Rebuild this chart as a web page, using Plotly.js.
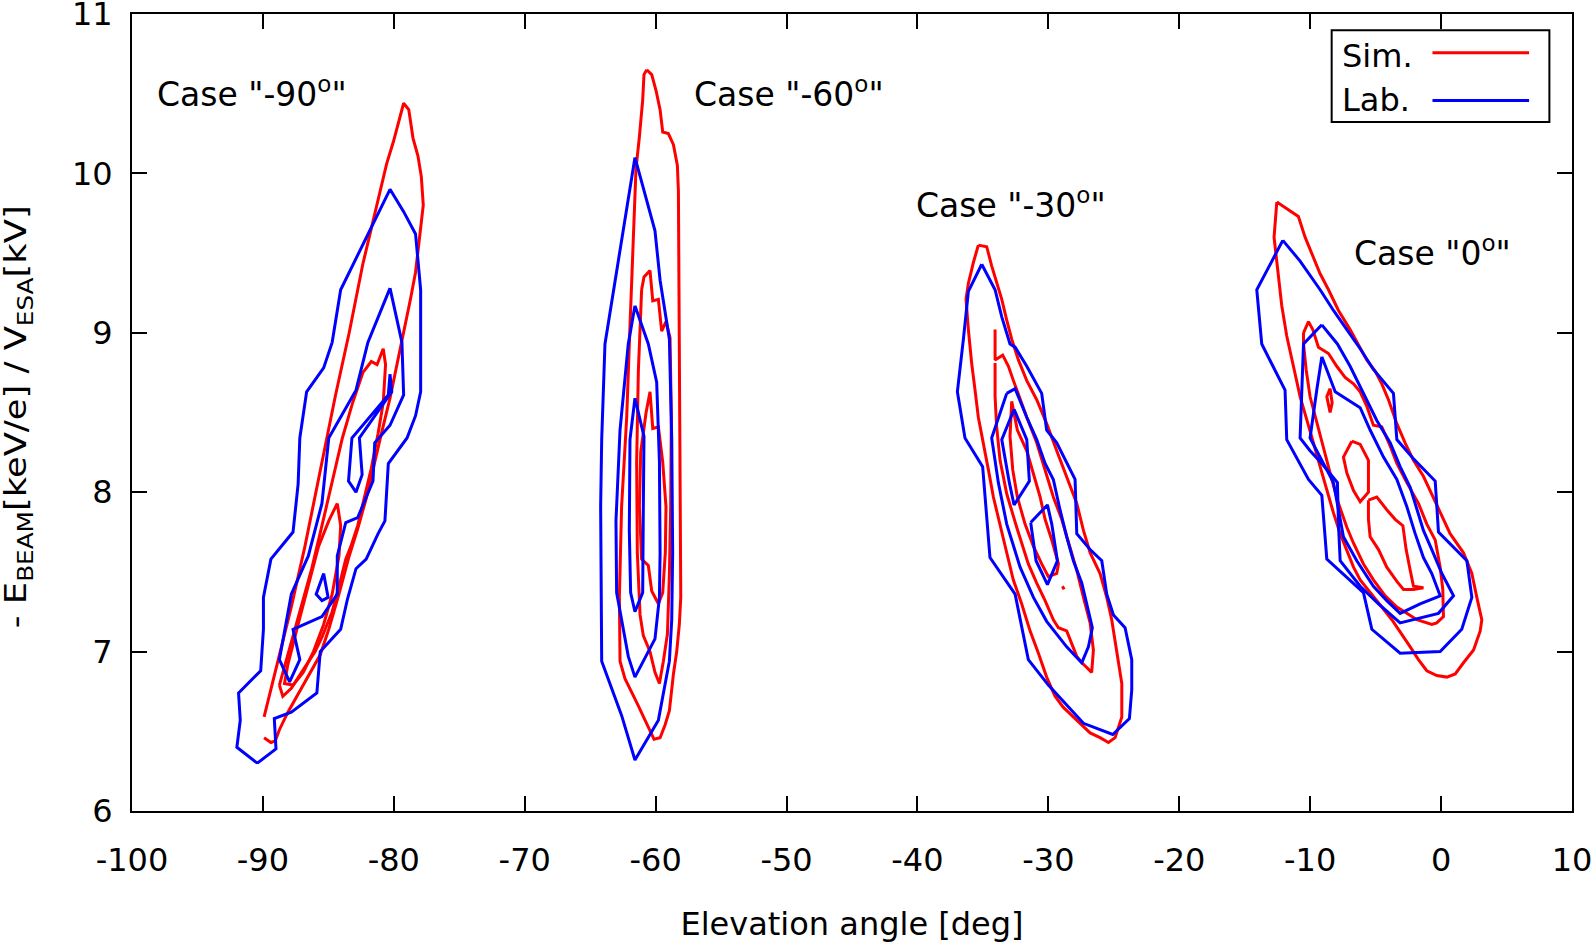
<!DOCTYPE html>
<html>
<head>
<meta charset="utf-8">
<script src="https://cdn.plot.ly/plotly-3.0.1.min.js"></script>
<style>html,body{margin:0;padding:0;background:#fff;}#chart{width:1595px;height:947px;}</style>
</head>
<body>
<div id="chart"></div>
<script>
// Contour lines (deg, kV); null separates individual contour levels.
const simM90X = [-89.91,-89.26,-88.48,-87.83,-86.79,-85.49,-84.45,-83.41,-82.37,-81.33,-80.55,-80.03,-79.25,-78.86,-78.53,-78.16,-77.90,-77.75,-78.01,-78.34,-78.73,-79.51,-80.29,-80.94,-81.46,-82.11,-82.76,-83.41,-84.19,-84.97,-85.62,-86.53,-87.31,-88.09,-88.74,-89.05,-89.39,-89.91, null,
  -88.74,-88.09,-87.31,-86.27,-85.49,-84.71,-83.93,-83.15,-82.37,-81.72,-81.28,-80.81,-80.63,-80.81,-81.20,-81.72,-82.24,-82.76,-83.28,-83.67,-84.19,-84.71,-85.49,-86.01,-87.05,-87.83,-88.48,-88.74, null,
  -84.32,-84.06,-84.19,-84.71,-85.36,-86.14,-86.92,-87.70,-88.35,-88.09,-87.31,-86.53,-85.75,-84.97,-84.32];
const simM90Y = [6.59,6.81,7.06,7.28,7.66,8.20,8.61,9.00,9.43,9.79,10.06,10.20,10.44,10.40,10.22,10.11,9.98,9.80,9.60,9.38,9.21,8.89,8.59,8.37,8.18,7.96,7.77,7.60,7.36,7.14,6.98,6.85,6.73,6.62,6.51,6.44,6.43,6.46, null,
  6.79,6.98,7.22,7.52,7.79,8.07,8.34,8.56,8.75,8.82,8.80,8.90,8.80,8.56,8.37,8.15,7.96,7.79,7.66,7.58,7.41,7.25,7.09,7.00,6.87,6.77,6.72,6.79, null,
  7.93,7.79,7.60,7.36,7.17,7.00,6.87,6.79,6.80,6.92,7.17,7.41,7.66,7.82,7.93];

const labM90X = [-90.43,-89.00,-89.13,-87.83,-85.88,-85.62,-84.06,-83.54,-82.89,-82.11,-81.20,-80.68,-80.42,-78.99,-78.34,-77.95,-77.95,-78.34,-79.25,-80.29,-84.06,-84.71,-85.36,-86.66,-87.18,-87.31,-87.70,-88.61,-89.39,-89.96,-89.96,-90.17,-91.86,-91.73,-91.99,-90.43, null,
  -80.29,-79.38,-79.25,-80.29,-81.46,-81.59,-82.76,-83.67,-84.32,-84.32,-85.49,-87.70,-87.18,-87.96,-88.74,-87.83,-86.53,-85.49,-84.97,-82.89,-81.98,-80.29, null,
  -80.29,-80.16,-82.63,-82.42,-82.89,-83.46,-83.20,-80.42,-80.29, null,
  -85.36,-85.02,-85.49,-85.93,-85.36];
const labM90Y = [6.30,6.39,6.58,6.62,6.74,7.00,7.14,7.33,7.52,7.58,7.74,7.82,8.18,8.34,8.48,8.63,9.27,9.62,9.76,9.90,9.27,8.94,8.78,8.63,8.34,8.05,7.75,7.66,7.58,7.34,7.14,6.88,6.74,6.57,6.40,6.30, null,
  9.28,8.94,8.61,8.42,8.31,8.07,7.84,7.81,7.60,7.36,7.22,7.14,6.95,6.81,6.95,7.36,7.60,7.93,8.34,8.64,8.94,9.28, null,
  8.74,8.63,8.34,8.11,8.00,8.07,8.34,8.61,8.74, null,
  7.49,7.34,7.32,7.36,7.49];

const simM60X = [-60.68,-60.30,-59.97,-59.66,-59.46,-59.03,-58.64,-58.34,-58.26,-58.21,-58.19,-58.13,-58.08,-58.19,-58.39,-58.64,-58.95,-59.28,-59.66,-60.12,-60.43,-60.81,-61.32,-61.83,-62.34,-62.72,-62.77,-62.60,-62.21,-61.96,-61.70,-61.50,-61.24,-60.99,-60.89,-60.68, null,
  -61.07,-60.89,-60.43,-60.22,-59.79,-59.54,-59.21,-58.90,-58.80,-58.85,-58.95,-59.10,-59.41,-59.71,-60.05,-60.43,-60.94,-61.19,-61.40,-61.45,-61.32,-61.19,-61.07, null,
  -60.73,-60.43,-60.22,-59.79,-59.46,-59.21,-59.26,-59.46,-59.79,-60.30,-60.56,-61.07,-61.24,-61.14,-60.73];
const simM60Y = [10.65,10.62,10.52,10.40,10.26,10.25,10.18,10.05,9.89,9.32,8.47,7.91,7.34,7.17,7.00,6.86,6.63,6.54,6.46,6.45,6.50,6.57,6.66,6.74,6.83,6.94,7.34,7.91,8.47,9.04,9.61,10.03,10.23,10.46,10.62,10.65, null,
  9.27,9.35,9.39,9.20,9.21,9.01,9.07,8.97,8.47,7.91,7.48,7.11,6.94,6.80,6.87,7.00,7.10,7.23,7.62,8.19,8.76,9.04,9.27, null,
  8.50,8.63,8.40,8.41,8.19,7.91,7.62,7.37,7.30,7.38,7.54,7.58,7.91,8.25,8.50];

const labM60X = [-61.58,-60.05,-59.66,-58.95,-58.77,-58.70,-58.77,-58.95,-59.79,-61.58,-62.60,-64.12,-64.20,-64.12,-63.87,-62.72,-61.58, null,
  -61.58,-60.56,-59.92,-59.71,-59.66,-59.71,-60.05,-61.58,-62.09,-62.98,-63.03,-62.72,-62.09,-61.58, null,
  -61.58,-60.89,-60.94,-60.99,-61.58,-61.91,-62.01,-61.96,-61.58];
const labM60Y = [10.10,9.64,9.33,8.96,8.33,7.62,7.20,6.94,6.57,6.32,6.60,6.94,7.91,8.33,8.93,9.52,10.10, null,
  9.17,8.93,8.69,8.19,7.62,7.34,7.08,6.84,6.97,7.37,7.82,8.39,8.93,9.17, null,
  8.59,8.35,7.91,7.37,7.25,7.37,7.76,8.33,8.59];

const simM30X = [-35.35,-34.71,-34.33,-33.95,-33.56,-33.18,-32.80,-32.29,-31.65,-30.89,-30.13,-29.36,-28.60,-27.83,-27.32,-26.81,-26.05,-25.54,-25.16,-24.78,-24.39,-24.39,-24.90,-25.41,-26.05,-26.81,-27.58,-28.85,-29.49,-30.13,-30.76,-31.40,-32.04,-32.68,-33.18,-33.69,-34.20,-34.58,-34.96,-35.35,-35.60,-35.86,-36.11,-36.29,-36.11,-35.73,-35.35, null,
  -34.07,-34.07,-33.49,-33.05,-32.67,-32.16,-31.65,-30.89,-30.25,-29.62,-28.98,-28.34,-27.83,-27.32,-26.81,-26.56,-26.69,-27.32,-27.83,-28.60,-29.23,-29.62,-30.25,-30.89,-31.53,-32.42,-33.18,-33.69,-33.95,-34.07,-34.07, null,
  -32.80,-32.37,-31.65,-31.14,-30.63,-30.25,-29.74,-29.23,-29.36,-30.00,-30.51,-31.14,-31.78,-32.37,-32.72,-32.93,-32.80, null,
  -28.92,-28.80];
const simM30Y = [9.55,9.54,9.42,9.31,9.21,9.08,8.96,8.83,8.70,8.58,8.43,8.26,8.10,7.93,7.76,7.62,7.49,7.34,7.20,6.99,6.80,6.59,6.46,6.43,6.46,6.49,6.55,6.65,6.72,6.84,6.99,7.13,7.30,7.45,7.62,7.80,7.97,8.14,8.31,8.47,8.64,8.81,9.02,9.21,9.31,9.44,9.55, null,
  9.02,8.83,8.86,8.79,8.70,8.58,8.47,8.31,8.14,7.97,7.83,7.66,7.51,7.34,7.18,7.01,6.87,6.92,6.97,7.13,7.15,7.20,7.32,7.43,7.55,7.78,7.99,8.20,8.41,8.60,8.81, null,
  8.57,8.39,8.26,8.12,7.97,7.83,7.70,7.55,7.49,7.47,7.55,7.66,7.80,7.97,8.14,8.35,8.57, null,
  7.41,7.39];

const labM30X = [-35.09,-34.07,-33.56,-32.93,-32.54,-31.65,-30.51,-30.13,-29.36,-27.96,-27.83,-26.81,-25.92,-25.54,-25.03,-24.14,-23.63,-23.63,-23.81,-25.08,-27.32,-30.00,-31.53,-32.54,-34.46,-35.02,-36.37,-36.95,-36.49,-36.11,-35.09, null,
  -33.18,-32.54,-31.65,-30.89,-30.25,-29.62,-29.11,-28.60,-28.09,-27.45,-27.07,-26.64,-26.94,-27.45,-28.60,-30.13,-31.14,-32.16,-33.18,-33.82,-34.33,-33.82,-33.18, null,
  -32.62,-31.65,-31.45,-32.62,-32.98,-33.56,-32.62, null,
  -31.35,-30.07,-29.74,-29.31,-30.07,-30.94,-31.35];
const labM30Y = [9.43,9.27,9.10,8.93,8.91,8.79,8.62,8.39,8.31,8.08,7.74,7.64,7.57,7.36,7.23,7.15,6.95,6.76,6.58,6.48,6.55,6.79,6.95,7.36,7.59,8.16,8.34,8.63,8.96,9.26,9.43, null,
  8.62,8.65,8.47,8.33,8.18,8.08,7.89,7.72,7.57,7.43,7.30,7.15,7.03,6.93,7.03,7.19,7.34,7.53,7.80,8.06,8.34,8.47,8.62, null,
  8.52,8.33,8.07,7.92,8.06,8.33,8.52, null,
  7.81,7.92,7.80,7.57,7.42,7.57,7.81];

const sim0X = [-12.55,-11.79,-10.90,-10.39,-9.88,-9.24,-8.60,-7.84,-6.95,-6.18,-5.68,-5.04,-4.53,-4.02,-3.38,-2.75,-2.11,-1.35,-0.71,-0.07,0.69,1.71,2.35,2.73,3.11,2.99,2.48,1.71,1.08,0.44,-0.33,-1.09,-1.73,-2.36,-3.00,-3.76,-4.53,-5.42,-6.18,-6.69,-7.20,-7.71,-8.22,-8.73,-9.24,-9.75,-10.26,-10.77,-11.28,-11.79,-12.17,-12.43,-12.76,-12.55, null,
  -10.51,-10.13,-9.80,-9.37,-8.60,-7.97,-7.33,-6.69,-6.18,-5.68,-5.17,-4.53,-3.89,-3.38,-2.62,-1.73,-1.09,-0.45,-0.07,0.13,0.18,-0.33,-0.71,-1.85,-2.62,-3.38,-4.27,-5.17,-5.93,-6.69,-7.20,-7.84,-8.35,-8.86,-9.50,-10.01,-10.31,-10.51,-10.51, null,
  -5.55,-4.91,-4.15,-3.51,-2.92,-2.67,-2.36,-2.11,-1.35,-2.11,-2.87,-3.38,-4.15,-4.78,-5.42,-5.55,-5.55, null,
  -6.82,-6.18,-5.55,-5.55,-6.18,-6.69,-7.20,-7.46,-6.82, null,
  -8.48,-8.32,-8.48,-8.73,-8.48];
const sim0Y = [9.82,9.78,9.73,9.60,9.50,9.37,9.27,9.14,9.02,8.91,8.83,8.76,8.68,8.58,8.43,8.31,8.20,8.10,7.99,7.87,7.74,7.62,7.49,7.34,7.20,7.13,7.01,6.93,6.86,6.84,6.85,6.88,6.95,7.03,7.11,7.20,7.28,7.37,7.45,7.53,7.64,7.74,7.87,8.01,8.16,8.31,8.45,8.60,8.79,8.98,9.17,9.37,9.60,9.82, null,
  9.00,9.07,9.02,8.91,8.87,8.79,8.72,8.68,8.63,8.54,8.42,8.41,8.29,8.18,8.06,7.93,7.80,7.70,7.53,7.39,7.22,7.18,7.17,7.20,7.24,7.28,7.35,7.45,7.55,7.68,7.78,7.93,8.08,8.24,8.43,8.60,8.77,8.93,9.00, null,
  7.95,7.97,7.89,7.83,7.79,7.64,7.51,7.41,7.40,7.39,7.39,7.44,7.53,7.64,7.72,7.83,7.95, null,
  8.32,8.30,8.20,8.00,7.94,8.01,8.12,8.22,8.32, null,
  8.65,8.56,8.50,8.60,8.65];

const lab0X = [-12.09,-10.77,-9.24,-8.22,-7.20,-6.18,-5.17,-4.27,-3.64,-3.38,-2.11,-0.45,-0.20,1.97,2.35,1.58,-0.07,-3.13,-5.29,-5.93,-8.73,-9.11,-10.13,-11.79,-11.92,-13.70,-14.08,-12.09, null,
  -9.11,-7.92,-6.95,-5.93,-4.91,-3.89,-3.13,-2.36,-1.85,-1.35,-0.71,0.06,0.95,-0.20,-3.13,-4.78,-6.18,-7.71,-7.84,-7.92,-9.11,-10.01,-10.77,-10.64,-10.51,-9.11, null,
  -9.11,-8.09,-6.18,-5.42,-4.40,-3.38,-2.62,-1.98,-1.35,-0.71,-0.07,-1.60,-3.13,-4.15,-5.17,-6.44,-7.46,-7.84,-8.22,-9.11,-10.01,-9.50,-9.11];
const lab0Y = [9.58,9.45,9.27,9.14,9.02,8.90,8.77,8.68,8.62,8.33,8.21,8.07,7.75,7.57,7.34,7.14,7.00,6.99,7.14,7.37,7.58,7.98,8.08,8.33,8.64,8.93,9.27,9.58, null,
  9.05,8.93,8.79,8.62,8.45,8.31,8.16,8.03,7.89,7.76,7.64,7.49,7.35,7.24,7.18,7.30,7.41,7.57,7.80,8.06,8.18,8.26,8.34,8.64,8.93,9.05, null,
  8.85,8.63,8.53,8.39,8.22,8.08,7.91,7.74,7.59,7.49,7.35,7.30,7.24,7.32,7.41,7.57,7.72,7.89,8.06,8.20,8.34,8.64,8.85];

const caseLabels = ['Case "-90<sup>o</sup>"', 'Case "-60<sup>o</sup>"', 'Case "-30<sup>o</sup>"', 'Case "0<sup>o</sup>"'];
const caseLabelX = [-98.25, -57.23, -40.25, -6.83];
const caseLabelY = [10.51, 10.51, 9.81, 9.51];
const seriesNames = ['Sim.', 'Lab.'];
const xTicks = [-100, -90, -80, -70, -60, -50, -40, -30, -20, -10, 0, 10];
const yTicks = [6, 7, 8, 9, 10, 11];

const RED = 'rgb(255,0,0)';
const BLUE = 'rgb(0,0,255)';
const FONT = 'DejaVu Sans, Verdana, sans-serif';

const simSets = [[simM90X, simM90Y], [simM60X, simM60Y], [simM30X, simM30Y], [sim0X, sim0Y]];
const labSets = [[labM90X, labM90Y], [labM60X, labM60Y], [labM30X, labM30Y], [lab0X, lab0Y]];

const traces = [];
simSets.forEach(function (s) {
  traces.push({x: s[0], y: s[1], type: 'scatter', mode: 'lines', name: seriesNames[0],
    line: {color: RED, width: 3}, connectgaps: false, showlegend: false, hoverinfo: 'x+y'});
});
labSets.forEach(function (s) {
  traces.push({x: s[0], y: s[1], type: 'scatter', mode: 'lines', name: seriesNames[1],
    line: {color: BLUE, width: 3}, connectgaps: false, showlegend: false, hoverinfo: 'x+y'});
});

const annotations = caseLabels.map(function (t, i) {
  return {x: caseLabelX[i], y: caseLabelY[i], xref: 'x', yref: 'y', text: t, showarrow: false,
    xanchor: 'left', yanchor: 'middle', font: {family: FONT, size: 33, color: '#000'}};
});
// legend (text on the left, sample line on the right, as in the original)
annotations.push({xref: 'paper', yref: 'paper', x: 0.8390, y: 0.947, text: seriesNames[0], showarrow: false,
  xanchor: 'left', yanchor: 'middle', font: {family: FONT, size: 32, color: '#000'}});
annotations.push({xref: 'paper', yref: 'paper', x: 0.8390, y: 0.892, text: seriesNames[1], showarrow: false,
  xanchor: 'left', yanchor: 'middle', font: {family: FONT, size: 32, color: '#000'}});

const shapes = [
  {type: 'rect', xref: 'paper', yref: 'paper', x0: 0.8331, x1: 0.9843, y0: 0.8646, y1: 0.9796,
    line: {color: '#000', width: 2}, fillcolor: 'rgba(255,255,255,1)'},
  {type: 'line', xref: 'paper', yref: 'paper', x0: 0.9031, x1: 0.9702, y0: 0.9515, y1: 0.9515,
    line: {color: RED, width: 3}},
  {type: 'line', xref: 'paper', yref: 'paper', x0: 0.9031, x1: 0.9702, y0: 0.8914, y1: 0.8914,
    line: {color: BLUE, width: 3}}
];

const axisCommon = {
  showline: true, linecolor: '#000', linewidth: 2, mirror: 'ticks',
  ticks: 'inside', ticklen: 15, tickwidth: 2, tickcolor: '#000',
  showgrid: false, zeroline: false, automargin: false,
  ticklabeloverflow: 'allow',
  tickfont: {family: FONT, size: 32, color: '#000'}
};

const layout = {
  width: 1595, height: 947,
  margin: {l: 132, r: 23, t: 14, b: 136},
  paper_bgcolor: '#fff', plot_bgcolor: '#fff',
  showlegend: false,
  xaxis: Object.assign({}, axisCommon, {
    range: [-100, 10], tickmode: 'array', tickvals: xTicks, ticktext: xTicks.map(String),
    ticklabelstandoff: 20,
    title: {text: 'Elevation angle [deg]', font: {family: FONT, size: 32, color: '#000'}, standoff: 34}
  }),
  yaxis: Object.assign({}, axisCommon, {
    range: [6, 11], tickmode: 'array', tickvals: yTicks, ticktext: yTicks.map(String),
    ticklabelstandoff: 11,
    title: {text: '- E<sub>BEAM</sub>[keV/e] / V<sub>ESA</sub>[kV]',
      font: {family: FONT, size: 31, color: '#000'}, standoff: 30}
  }),
  annotations: annotations,
  shapes: shapes
};

Plotly.newPlot('chart', traces, layout, {displayModeBar: false, staticPlot: true}).then(function (gd) {
  // the original draws the rotated y label slightly stretched along its baseline
  const t = gd.querySelector('.ytitle');
  if (t) {
    const bb = t.getBBox();
    const cx = bb.x + bb.width / 2, cy = bb.y + bb.height / 2;
    const base = t.getAttribute('transform') || '';
    t.setAttribute('transform', 'translate(' + (26 - cx) + ',' + (408 - cy) + ') ' + base +
      ' translate(' + cx + ',' + cy + ') scale(1.14,1) translate(' + (-cx) + ',' + (-cy) + ')');
  }
});
</script>
</body>
</html>
